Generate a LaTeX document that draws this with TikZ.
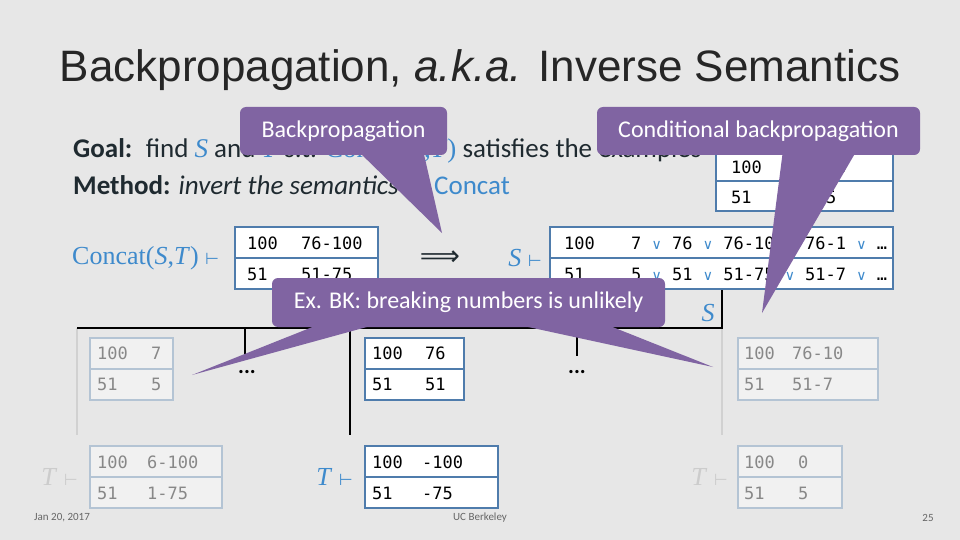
\documentclass[tikz,border=0pt]{standalone}
\usepackage{fontspec}
\setmainfont{Carlito}
\newfontfamily\titlef{Liberation Sans}
\newfontfamily\monof{DejaVu Sans Mono}
\newfontfamily\serf{Liberation Serif}
\newfontfamily\symf{DejaVu Sans}
\definecolor{bg}{HTML}{E7E7E7}
\definecolor{purp}{HTML}{8064A2}
\definecolor{blu}{HTML}{3E8ACC}
\definecolor{tb}{HTML}{4F7CAC}
\definecolor{fb}{HTML}{B4C4D4}
\definecolor{fg}{HTML}{888888}
\definecolor{dk}{HTML}{1F2A30}
\newcommand\vd{{\symf\fontsize{16}{16}\selectfont ⊢}}
\newcommand\orr{{\color{blu}\symf\fontsize{14}{14}\selectfont ∨}}
\tikzset{
 tab/.style={draw=tb,line width=1.8pt,fill=white,inner sep=0pt},
 ftab/.style={draw=fb,line width=1.8pt,fill=white!40!bg,inner sep=0pt},
 cell/.style={anchor=west,inner sep=0pt,font=\monof\fontsize{17}{17}\selectfont,text=black},
 fcell/.style={cell,text=fg},
 tree/.style={line width=2.6pt,black},
 ftree/.style={line width=2pt,color=black!18},
 call/.style={fill=purp,rounded corners=6pt,inner sep=0pt,text=white,font=\fontsize{24}{24}\selectfont},
 wedge/.style={fill=purp},
 txt/.style={anchor=west,inner sep=0pt,text=dk,font=\fontsize{27}{27}\selectfont},
 mth/.style={inner sep=0pt,text=blu,font=\serf\fontsize{26}{26}\selectfont},
}
\begin{document}
\begin{tikzpicture}[x=1pt,y=-1pt]
\useasboundingbox (0,0) rectangle (960,540);
\fill[bg] (0,0) rectangle (960,540);
\node[inner sep=0pt,font=\titlef\fontsize{44}{44}\selectfont,text=black!85] (title) at (480,70) {Backpropagation, \textit{a.k.a.} Inverse Semantics};
\node[txt] (goal) at (73,151) {\textbf{Goal:}\enspace find {\serf\color{blu}\textit{S}} and {\serf\color{blu}\textit{T}} s.t. {\serf\color{blu}Concat(\textit{S},\textit{T})} satisfies the examples};
\node[txt] (method) at (73,187) {\textbf{Method:} \textit{invert the semantics of} {\color{blu}Concat}};
\node[mth,anchor=west] (cst) at (72,258) {Concat(\textit{S},\textit{T}) \vd};
\node[inner sep=0pt,font=\symf\fontsize{28}{28}\selectfont,text=dk] (imp) at (440,258) {⟹};
\node[mth,anchor=east] (sv) at (542,258) {\textit{S} \vd};
% table 1
\node[tab,minimum width=143,minimum height=62] (t1) at (306.5,258) {};
\draw[tb,line width=1.8pt] (t1.west)--(t1.east);
\node[cell] at (247,243) {100}; \node[cell] at (301,243) {76-100};
\node[cell] at (247,274) {51}; \node[cell] at (301,274) {51-75};
% table 2
\node[tab,minimum width=343,minimum height=62] (t2) at (721.5,258) {};
\draw[tb,line width=1.8pt] (t2.west)--(t2.east);
\node[cell] at (564,243) {100}; \node[cell] at (631,243) {7 \orr{} 76 \orr{} 76-10 \orr{} 76-1 \orr{} …};
\node[cell] at (564,274) {51}; \node[cell] at (631,274) {5 \orr{} 51 \orr{} 51-75 \orr{} 51-7 \orr{} …};
% table 3
\node[tab,minimum width=177,minimum height=60] (t3) at (804.5,181) {};
\draw[tb,line width=1.8pt] (t3.west)--(t3.east);
\node[cell] at (731,167) {100}; \node[cell] at (785,167) {76-100};
\node[cell] at (731,197) {51}; \node[cell] at (785,197) {51-75};
% tree
\node[mth,anchor=center] (slab) at (708,313) {\textit{S}};
\coordinate (hl) at (77,328); \coordinate (hr) at (722,328); \coordinate (ht) at (722,290);
\coordinate (l1) at (245,328); \coordinate (l1e) at (245,356);
\coordinate (l2) at (350,328); \coordinate (l2e) at (350,435);
\coordinate (l3) at (577,328); \coordinate (l3e) at (577,356);
\coordinate (g1) at (77,435); \coordinate (g2) at (722,435);
\draw[ftree] (hl)--(g1); \draw[ftree] (hr)--(g2);
\draw[tree] (hl)--(hr)--(ht);
\draw[tree] (l1)--(l1e); \draw[tree] (l2)--(l2e); \draw[tree] (l3)--(l3e);
\node[inner sep=0pt,font=\bfseries\fontsize{22}{22}\selectfont] (d1) at (247,372) {...};
\node[inner sep=0pt,font=\bfseries\fontsize{22}{22}\selectfont] (d2) at (577,372) {...};
% faded tables
\node[ftab,minimum width=83,minimum height=62] (f1) at (131.5,369) {};
\draw[fb,line width=1.8pt] (f1.west)--(f1.east);
\node[fcell] at (97,353) {100}; \node[fcell] at (151,353) {7};
\node[fcell] at (97,384) {51}; \node[fcell] at (151,384) {5};
\node[ftab,minimum width=132,minimum height=62] (f2) at (156,477) {};
\draw[fb,line width=1.8pt] (f2.west)--(f2.east);
\node[fcell] at (97,462) {100}; \node[fcell] at (147,462) {6-100};
\node[fcell] at (97,493) {51}; \node[fcell] at (147,493) {1-75};
\node[ftab,minimum width=140,minimum height=62] (f3) at (808,369) {};
\draw[fb,line width=1.8pt] (f3.west)--(f3.east);
\node[fcell] at (744,353) {100}; \node[fcell] at (792,353) {76-10};
\node[fcell] at (744,384) {51}; \node[fcell] at (792,384) {51-7};
\node[ftab,minimum width=104,minimum height=62] (f4) at (790,477) {};
\draw[fb,line width=1.8pt] (f4.west)--(f4.east);
\node[fcell] at (744,462) {100}; \node[fcell] at (798,462) {0};
\node[fcell] at (744,493) {51}; \node[fcell] at (798,493) {5};
\node[mth,text=black!20,anchor=east] (ft1) at (78,477) {\textit{T} \vd};
\node[mth,text=black!20,anchor=east] (ft2) at (728,477) {\textit{T} \vd};
% active tables
\node[tab,minimum width=99,minimum height=62] (a1) at (414.5,369) {};
\draw[tb,line width=1.8pt] (a1.west)--(a1.east);
\node[cell] at (372,353) {100}; \node[cell] at (425,353) {76};
\node[cell] at (372,384) {51}; \node[cell] at (425,384) {51};
\node[tab,minimum width=133,minimum height=62] (a2) at (431.5,477) {};
\draw[tb,line width=1.8pt] (a2.west)--(a2.east);
\node[cell] at (372,462) {100}; \node[cell] at (422,462) {-100};
\node[cell] at (372,493) {51}; \node[cell] at (422,493) {-75};
\node[mth,anchor=east] (tv) at (353,477) {\textit{T} \vd};
% footer
\node[inner sep=0pt,font=\fontsize{11}{11}\selectfont,text=black!60] (date) at (62,518) {Jan 20, 2017};
\node[inner sep=0pt,font=\fontsize{11}{11}\selectfont,text=black!60] (uc) at (480,518) {UC Berkeley};
\node[inner sep=0pt,font=\fontsize{11}{11}\selectfont,text=black!60] (pg) at (928,518) {25};
% callouts
\node[call,minimum width=207,minimum height=48] (c1) at (343.5,131) {Backpropagation};
\fill[wedge] (357,150) -- (423,150) -- (442,233) -- cycle;
\node[call,minimum width=323,minimum height=48] (c2) at (758.5,131) {Conditional backpropagation};
\fill[wedge] (783,150) -- (857,150) -- (762,313) -- cycle;
\node[call,minimum width=393,minimum height=49] (c3) at (468.5,302.5) {Ex. BK: breaking numbers is unlikely};
\fill[wedge] (325,322) -- (385,322) -- (192,375) -- cycle;
\fill[wedge] (505,322) -- (600,322) -- (713,367) -- cycle;
\end{tikzpicture}
\end{document}
